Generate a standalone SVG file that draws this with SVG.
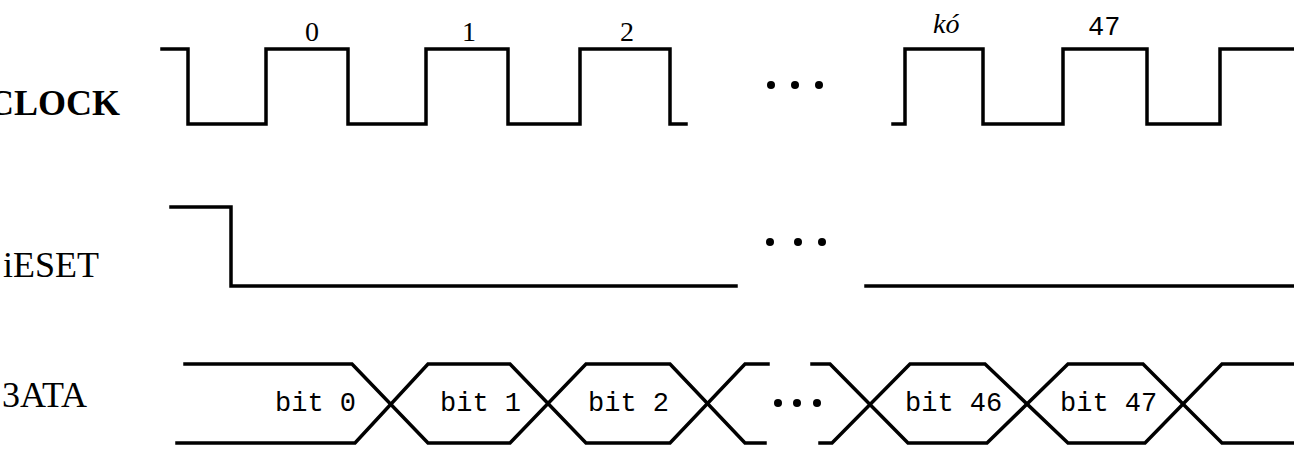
<svg xmlns="http://www.w3.org/2000/svg" width="1294" height="450" viewBox="0 0 1294 450">
<style>
.wave{fill:none;stroke:#000;stroke-width:3.5;stroke-linejoin:miter;stroke-linecap:square}
.lbl{font-family:"Liberation Serif","Times New Roman",serif;font-size:36px;fill:#000}
.num{font-family:"Liberation Serif","Times New Roman",serif;font-size:28px;fill:#000}
.mono{font-family:"Liberation Mono","Courier New",monospace;font-size:27px;fill:#000}
.dot{fill:#000}
</style>
<rect width="1294" height="450" fill="#fff"/>
<g id="signal-names">
<text class="lbl" x="-12" y="115" font-size="33" font-weight="bold">CLOCK</text>
<text class="lbl" x="3" y="277">iESET</text>
<text class="lbl" x="2" y="407">3ATA</text>
</g>
<g id="clock">
<path class="wave" d="M162,49 H188 V124 H266 V49 H348 V124 H426 V49 H508 V124 H580 V49 H670 V124 H686"/>
<path class="wave" d="M893,124 H905 V49 H983 V124 H1063 V49 H1147 V124 H1220 V49 H1296"/>
<circle class="dot" cx="771" cy="85" r="4"/>
<circle class="dot" cx="795" cy="85" r="4"/>
<circle class="dot" cx="819" cy="85" r="4"/>
<text class="num" x="312" y="41" text-anchor="middle">0</text>
<text class="num" x="469" y="41" text-anchor="middle">1</text>
<text class="num" x="627" y="41" text-anchor="middle">2</text>
<text class="num" x="933" y="33" font-size="32" font-style="italic">kó</text>
<text class="mono" x="1088" y="35" font-size="30">47</text>
</g>
<g id="reset">
<path class="wave" d="M171,207 H231 V286 H736"/>
<path class="wave" d="M866,286 H1296"/>
<circle class="dot" cx="770" cy="242" r="4"/>
<circle class="dot" cx="798" cy="242" r="4"/>
<circle class="dot" cx="822" cy="242" r="4"/>
</g>
<g id="data">
<path class="wave" d="M185,364 H352 L428,443 H510 L586,364 H670 L745,443 H765"/>
<path class="wave" d="M177,443 H355 L428,364 H510 L586,443 H670 L745,364 H768"/>
<path class="wave" d="M812,364 H830 L908,443 H987 L1068,364 H1143 L1222,443 H1296"/>
<path class="wave" d="M820,443 H832 L910,364 H985 L1068,443 H1145 L1222,364 H1296"/>
<circle class="dot" cx="778" cy="403" r="4"/>
<circle class="dot" cx="797" cy="403" r="4"/>
<circle class="dot" cx="817" cy="403" r="4"/>
<text class="mono" x="275" y="411">bit 0</text>
<text class="mono" x="440" y="411">bit 1</text>
<text class="mono" x="588" y="411">bit 2</text>
<text class="mono" x="905" y="411">bit 46</text>
<text class="mono" x="1060" y="411">bit 47</text>
</g>
</svg>
